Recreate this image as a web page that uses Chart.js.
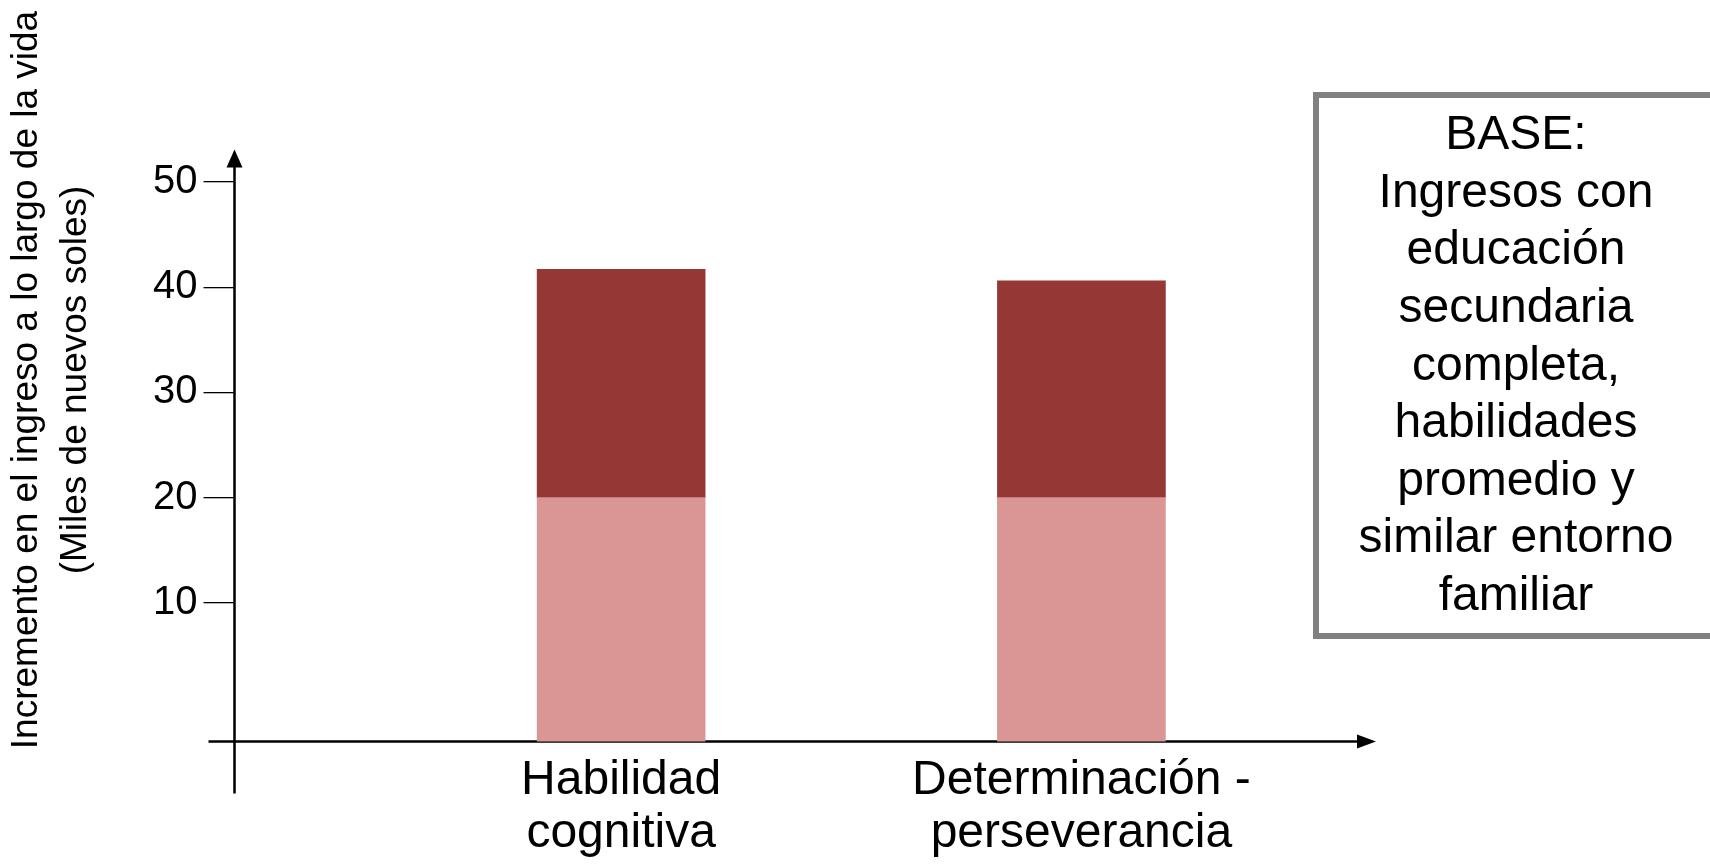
<!DOCTYPE html>
<html>
<head>
<meta charset="utf-8">
<script src="https://cdn.jsdelivr.net/npm/chart.js@4/dist/chart.umd.min.js"></script>
<style>
  html, body { margin: 0; padding: 0; background: #fff; }
  #wrap { width: 1710px; height: 865px; position: relative; }
</style>
</head>
<body>
<div id="wrap"><canvas id="chart"></canvas></div>
<script>
// categories (multi-line labels) and their positions on the x axis
var categories = [["Habilidad", "cognitiva"], ["Determinación -", "perseverancia"]];
var positions = [1, 2];

// series values (miles de nuevos soles)
var baseIncome = [20, 20];
var extraIncome = [21.7, 20.6];

// axis
var yTicks = [10, 20, 30, 40, 50];
var yMin = -3.2, yMax = 53;
var xMin = 0.16, xMax = 2.64;

var yTitle = ["Incremento en el ingreso a lo largo de la vida", "(Miles de nuevos soles)"];
var baseNote = ["BASE:", "Ingresos con", "educación", "secundaria", "completa,", "habilidades", "promedio y", "similar entorno", "familiar"];

var FONT = "'Liberation Sans', Arial, sans-serif";
Chart.defaults.font.family = FONT;
Chart.defaults.color = "#000";

var decor = {
    id: "decor",
    beforeDatasetsDraw: function (chart) {
        var ctx = chart.ctx, a = chart.chartArea;
        var left = chart.scales.x.getPixelForValue(xMin);
        var bottom = chart.scales.y.getPixelForValue(yMin);
        ctx.save();
        ctx.strokeStyle = "#000";
        ctx.fillStyle = "#000";
        ctx.lineWidth = 2.5;
        // y axis with arrow
        ctx.beginPath();
        ctx.moveTo(left, bottom + 52);
        ctx.lineTo(left, a.top + 12);
        ctx.stroke();
        ctx.beginPath();
        ctx.moveTo(left, a.top - 1);
        ctx.lineTo(left - 8, a.top + 17);
        ctx.lineTo(left + 8, a.top + 17);
        ctx.closePath();
        ctx.fill();
        // x axis with arrow
        ctx.beginPath();
        ctx.moveTo(left - 26, bottom);
        ctx.lineTo(a.right - 14, bottom);
        ctx.stroke();
        ctx.beginPath();
        ctx.moveTo(a.right, bottom);
        ctx.lineTo(a.right - 19, bottom - 7);
        ctx.lineTo(a.right - 19, bottom + 7);
        ctx.closePath();
        ctx.fill();
        ctx.restore();
    },
    afterDraw: function (chart) {
        var ctx = chart.ctx;
        ctx.save();
        // rotated y axis title
        ctx.translate(51.5, 380);
        ctx.rotate(-Math.PI / 2);
        ctx.font = "37px " + FONT;
        ctx.fillStyle = "#000";
        ctx.textAlign = "center";
        ctx.textBaseline = "middle";
        ctx.fillText(yTitle[0], 0, -24.5);
        ctx.fillText(yTitle[1], 0, 24.5);
        ctx.restore();

        // note box on the right
        ctx.save();
        ctx.fillStyle = "#fff";
        ctx.fillRect(1316, 95, 420, 541);
        ctx.strokeStyle = "#808080";
        ctx.lineWidth = 6;
        ctx.strokeRect(1316, 95, 420, 541);
        ctx.font = "48px " + FONT;
        ctx.fillStyle = "#000";
        ctx.textAlign = "center";
        ctx.textBaseline = "middle";
        baseNote.forEach(function (t, i) {
            ctx.fillText(t, 1516, 136 + i * 57.6);
        });
        ctx.restore();
    }
};

new Chart("chart", {
    type: "bar",
    data: {
        datasets: [{
            label: "Base",
            data: positions.map(function (x, i) { return { x: x, y: baseIncome[i] }; }),
            backgroundColor: "#D99694",
            base: yMin,
            barThickness: 168
        }, {
            label: "Incremento",
            data: positions.map(function (x, i) { return { x: x, y: extraIncome[i] }; }),
            backgroundColor: "#953735",
            barThickness: 168
        }]
    },
    options: {
        responsive: true,
        maintainAspectRatio: false,
        animation: false,
        layout: { padding: { left: 0, right: 334, top: 150.5, bottom: 0 } },
        scales: {
            x: {
                type: "linear",
                stacked: true,
                offset: false,
                min: xMin,
                max: xMax,
                border: { display: false },
                grid: { display: false, drawTicks: false },
                afterBuildTicks: function (axis) {
                    axis.ticks = positions.map(function (v) { return { value: v }; });
                },
                afterFit: function (axis) { axis.height = 123.4; },
                ticks: {
                    autoSkip: false,
                    maxRotation: 0,
                    padding: 12.5,
                    font: { size: 48, lineHeight: 1.1 },
                    callback: function (value) { return categories[Math.round(value) - 1]; }
                }
            },
            y: {
                stacked: true,
                min: yMin,
                max: yMax,
                border: { display: false },
                grid: {
                    drawOnChartArea: false,
                    drawTicks: true,
                    tickLength: 31,
                    color: "#000",
                    lineWidth: 1.3
                },
                afterBuildTicks: function (axis) {
                    axis.ticks = yTicks.map(function (v) { return { value: v }; });
                },
                afterFit: function (axis) { axis.width = 234.5; },
                ticks: {
                    padding: 6,
                    font: { size: 40 }
                }
            }
        },
        plugins: {
            legend: { display: false },
            tooltip: { enabled: false }
        }
    },
    plugins: [decor]
});
</script>
</body>
</html>
